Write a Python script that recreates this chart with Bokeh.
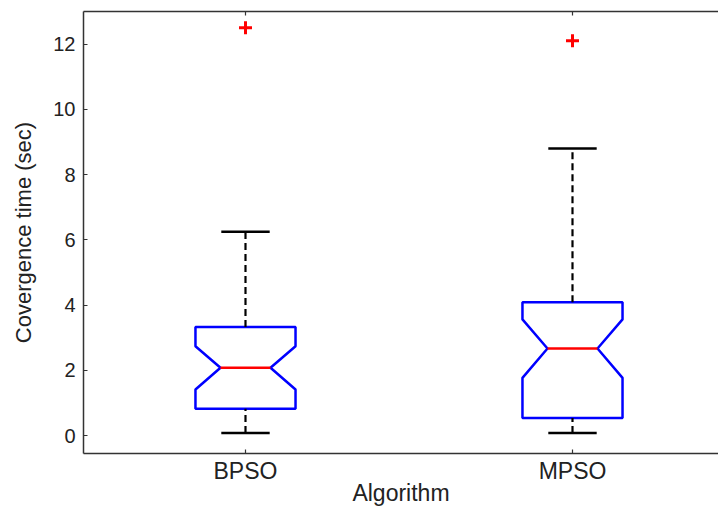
from bokeh.plotting import figure
from bokeh.models import LinearAxis, FixedTicker, Range1d, ColumnDataSource
from bokeh.embed import file_html
from bokeh.resources import INLINE

# ---- data ----
categories = ["BPSO", "MPSO"]
positions = [1, 2]
whisker_lo = [0.08, 0.08]
q1 = [0.82, 0.54]
notch_lo = [1.41, 1.77]
median = [2.08, 2.67]
notch_hi = [2.74, 3.56]
q3 = [3.33, 4.09]
whisker_hi = [6.25, 8.80]
outlier_x = [1, 2]
outlier_y = [12.5, 12.1]
y_ticks = [0, 2, 4, 6, 8, 10, 12]

# ---- styling ----
FONT = "Liberation Sans"
BOX_HALF = 0.153
CAP_HALF = 0.074

p = figure(width=718, height=508, output_backend="svg", toolbar_location=None,
           x_range=Range1d(0.5046, 2.4465), y_range=Range1d(-0.55, 13.0),
           x_axis_location=None, y_axis_location=None,
           min_border_left=83, min_border_right=0, min_border_top=11, min_border_bottom=0)
p.outline_line_color = None
p.xgrid.visible = False
p.ygrid.visible = False
p.background_fill_color = "white"
p.border_fill_color = "white"

# box polygons (notched)
xs, ys = [], []
for x, a, nl, m, nh, b in zip(positions, q1, notch_lo, median, notch_hi, q3):
    w = BOX_HALF
    xs.append([x - w, x - w, x - w / 2, x - w, x - w, x + w, x + w, x + w / 2, x + w, x + w, x - w])
    ys.append([a, nl, m, nh, b, b, nh, m, nl, a, a])
p.patches(xs, ys, fill_color=None, line_color="#0000FF", line_width=2.5)

# whiskers (dashed)
src = ColumnDataSource(dict(x=positions, lo=whisker_lo, q1=q1, q3=q3, hi=whisker_hi,
                            med=median))
p.segment(x0="x", y0="q3", x1="x", y1="hi", source=src, line_color="black",
          line_width=2.2, line_dash="7 4")
p.segment(x0="x", y0="lo", x1="x", y1="q1", source=src, line_color="black",
          line_width=2.2, line_dash="7 4")
# caps
cap_x0 = [x - CAP_HALF for x in positions]
cap_x1 = [x + CAP_HALF for x in positions]
p.segment(x0=cap_x0, y0=whisker_hi, x1=cap_x1, y1=whisker_hi, line_color="black", line_width=2.5)
p.segment(x0=cap_x0, y0=whisker_lo, x1=cap_x1, y1=whisker_lo, line_color="black", line_width=2.5)
# medians
med_x0 = [x - BOX_HALF / 2 for x in positions]
med_x1 = [x + BOX_HALF / 2 for x in positions]
p.segment(x0=med_x0, y0=median, x1=med_x1, y1=median, line_color="#FF0000", line_width=2.5)
# outliers
p.scatter(outlier_x, outlier_y, marker="cross", size=13, line_color="#FF0000", line_width=3)

AX_COL = "#333333"
TXT_COL = "#222222"

def style(ax, tick_size="20px", label_size="23px"):
    ax.axis_line_color = AX_COL
    ax.axis_line_width = 1.5
    ax.major_tick_line_color = AX_COL
    ax.major_tick_line_width = 1.2
    ax.major_tick_in = 4
    ax.major_tick_out = 0
    ax.minor_tick_line_color = None
    ax.major_label_text_font = FONT
    ax.major_label_text_font_size = tick_size
    ax.major_label_text_color = TXT_COL
    ax.axis_label_text_font = FONT
    ax.axis_label_text_font_size = label_size
    ax.axis_label_text_font_style = "normal"
    ax.axis_label_text_color = TXT_COL

yaxis = LinearAxis(ticker=FixedTicker(ticks=y_ticks), axis_label="Covergence time (sec)")
style(yaxis, "20px", "22px")
yaxis.major_label_standoff = 8
yaxis.axis_label_standoff = 14
p.add_layout(yaxis, "left")

xaxis = LinearAxis(ticker=FixedTicker(ticks=positions), axis_label="Algorithm",
                   major_label_overrides={pos: c for pos, c in zip(positions, categories)})
style(xaxis, "23px", "23px")
xaxis.major_label_standoff = 4
xaxis.axis_label_standoff = -7
p.add_layout(xaxis, "below")

top = LinearAxis(ticker=FixedTicker(ticks=positions))
style(top)
top.major_label_text_font_size = "0px"
top.major_label_standoff = 0
top.major_label_text_color = None
p.add_layout(top, "above")

open("out.html", "w").write(file_html(p, INLINE))
